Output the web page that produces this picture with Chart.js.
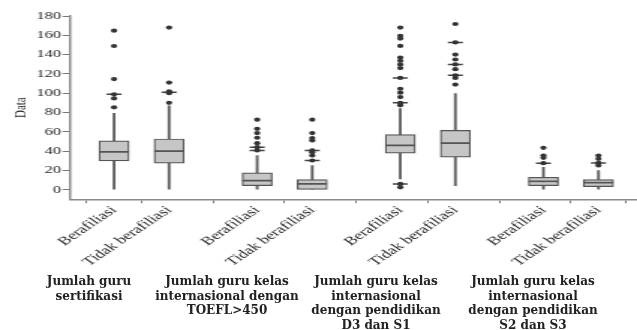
<!DOCTYPE html>
<html>
<head>
<meta charset="utf-8">
<script src="https://cdn.jsdelivr.net/npm/chart.js@4.4.0/dist/chart.umd.min.js"></script>
<style>
  html, body { margin: 0; padding: 0; background: #fff; }
  #wrap { position: relative; width: 637px; height: 330px; overflow: hidden; }
  /* the source figure is stretched horizontally, so the chart is drawn narrow and scaled */
  #stretch { position: absolute; left: 0; top: 0; width: 425px; height: 330px;
             transform: scaleX(1.49882); transform-origin: 0 0; }
  .grp { position: absolute; top: 274px; transform: translateX(-50%);
         font: bold 12px 'DejaVu Serif', serif; color: #222; text-align: center;
         line-height: 14.5px; white-space: nowrap; }
</style>
</head>
<body>
<div id="wrap">
  <div id="stretch"><canvas id="chart" width="425" height="330"></canvas></div>
  <div class="grp" style="left:89px">Jumlah guru<br>sertifikasi</div>
  <div class="grp" style="left:227px">Jumlah guru kelas<br>internasional dengan<br>TOEFL&gt;450</div>
  <div class="grp" style="left:376px">Jumlah guru kelas<br>internasional<br>dengan pendidikan<br>D3 dan S1</div>
  <div class="grp" style="left:533px">Jumlah guru kelas<br>internasional<br>dengan pendidikan<br>S2 dan S3</div>
</div>
<script>
const subLabels = ['Berafiliasi', 'Tidak berafiliasi'];
const yTicks = [0, 20, 40, 60, 80, 100, 120, 140, 160, 180];

// one entry per box, in drawing order (4 groups x 2)
const whiskerLow  = [0, 0, 0, 0, 11, 4.2, 0, 0];
const q1          = [29.8, 27.5, 4.2, 0.3, 37.8, 33.6, 4.2, 3.1];
const median      = [39.1, 40, 9.4, 5.9, 45.8, 48.2, 8.6, 7.3];
const q3          = [50.6, 52.5, 17.4, 10.4, 57, 61.4, 12.8, 10.4];
const whiskerHigh = [79, 87, 35.4, 25, 84, 99.6, 23.2, 19.8];
const outliers = [
  [85.3, 94.6, 98.8, 114.6, 148.9, 164.8],
  [90, 100, 102, 111, 168],
  [40.6, 44, 48.2, 53.8, 58.6, 63, 72.5],
  [30.2, 35.4, 38.8, 40.6, 51, 53.4, 58.6, 72.5],
  [2.4, 5.9, 87.4, 90, 96, 100.5, 104.6, 115.8, 126, 129.8, 133.6, 137, 149, 156.6, 159.5, 168],
  [108.9, 115.8, 118.6, 124.9, 129.8, 134.9, 140, 152.6, 171.7],
  [27.4, 33, 35.4, 43.3],
  [25, 27.7, 31.9, 35.4]
];
// outlier values where many cases pile up (drawn wider)
const clusters = [[98.8], [101], [40.6, 44], [30.2, 40.6], [5.9, 90, 115.8], [118.6, 129.8, 152.6], [27.4], [27.7]];

// x position of each box: pairs inside a group, wider gap between groups
const xPos = q1.map((_, i) => 1 + Math.floor(i / 2) * 2.6 + (i % 2));

const boxFill = '#c6c6c6';
const boxLine = '#555555';

const chart = new Chart(document.getElementById('chart'), {
  type: 'bar',
  data: {
    datasets: [
      {
        data: xPos.map((x, i) => ({ x, y: [whiskerLow[i], whiskerHigh[i]] })),
        backgroundColor: '#5e5e5e',
        barThickness: 1.2,
        grouped: false,
        order: 3
      },
      {
        data: xPos.map((x, i) => ({ x, y: [q1[i], median[i]] })),
        backgroundColor: boxFill,
        borderColor: boxLine,
        borderWidth: 1.2,
        borderSkipped: false,
        barThickness: 20,
        grouped: false,
        order: 2
      },
      {
        data: xPos.map((x, i) => ({ x, y: [median[i], q3[i]] })),
        backgroundColor: boxFill,
        borderColor: boxLine,
        borderWidth: 1.2,
        borderSkipped: false,
        barThickness: 20,
        grouped: false,
        order: 2
      },
      {
        type: 'scatter',
        data: clusters.flatMap((vals, i) => vals.map(v => ({ x: xPos[i], y: v }))),
        pointStyle: 'line',
        radius: 5,
        borderColor: '#444444',
        borderWidth: 1.5,
        order: 1
      },
      {
        type: 'scatter',
        data: outliers.flatMap((vals, i) => vals.map(v => ({ x: xPos[i], y: v }))),
        pointStyle: 'circle',
        radius: 2.1,
        backgroundColor: '#333333',
        borderWidth: 0,
        order: 0
      }
    ]
  },
  options: {
    responsive: false,
    animation: false,
    layout: { autoPadding: false, padding: { left: 6, top: 16, right: 0, bottom: 61 } },
    plugins: { legend: { display: false }, tooltip: { enabled: false } },
    scales: {
      x: {
        type: 'linear',
        min: 0.2,
        max: 10.5,
        offset: false,
        afterBuildTicks: s => { s.ticks = xPos.map(v => ({ value: v })); },
        grid: { drawOnChartArea: false, drawTicks: true, tickLength: 4, color: '#777777' },
        border: { color: '#8a8a8a', width: 1.5 },
        ticks: {
          autoSkip: false,
          minRotation: 45,
          maxRotation: 45,
          padding: 0,
          color: '#222222',
          font: { family: 'Liberation Serif', size: 12 },
          callback: (v, i) => subLabels[i % 2]
        }
      },
      y: {
        min: -10,
        max: 180,
        afterBuildTicks: s => { s.ticks = yTicks.map(v => ({ value: v })); },
        grid: { drawOnChartArea: false, drawTicks: true, tickLength: 5, color: '#777777' },
        border: { color: '#8a8a8a', width: 1.5 },
        ticks: {
          padding: 1,
          color: '#222222',
          font: { family: 'Liberation Serif', size: 11 }
        },
        title: {
          display: true,
          text: 'Data',
          color: '#222222',
          padding: 2,
          font: { family: 'Liberation Serif', size: 11 }
        }
      }
    }
  }
});
</script>
</body>
</html>
